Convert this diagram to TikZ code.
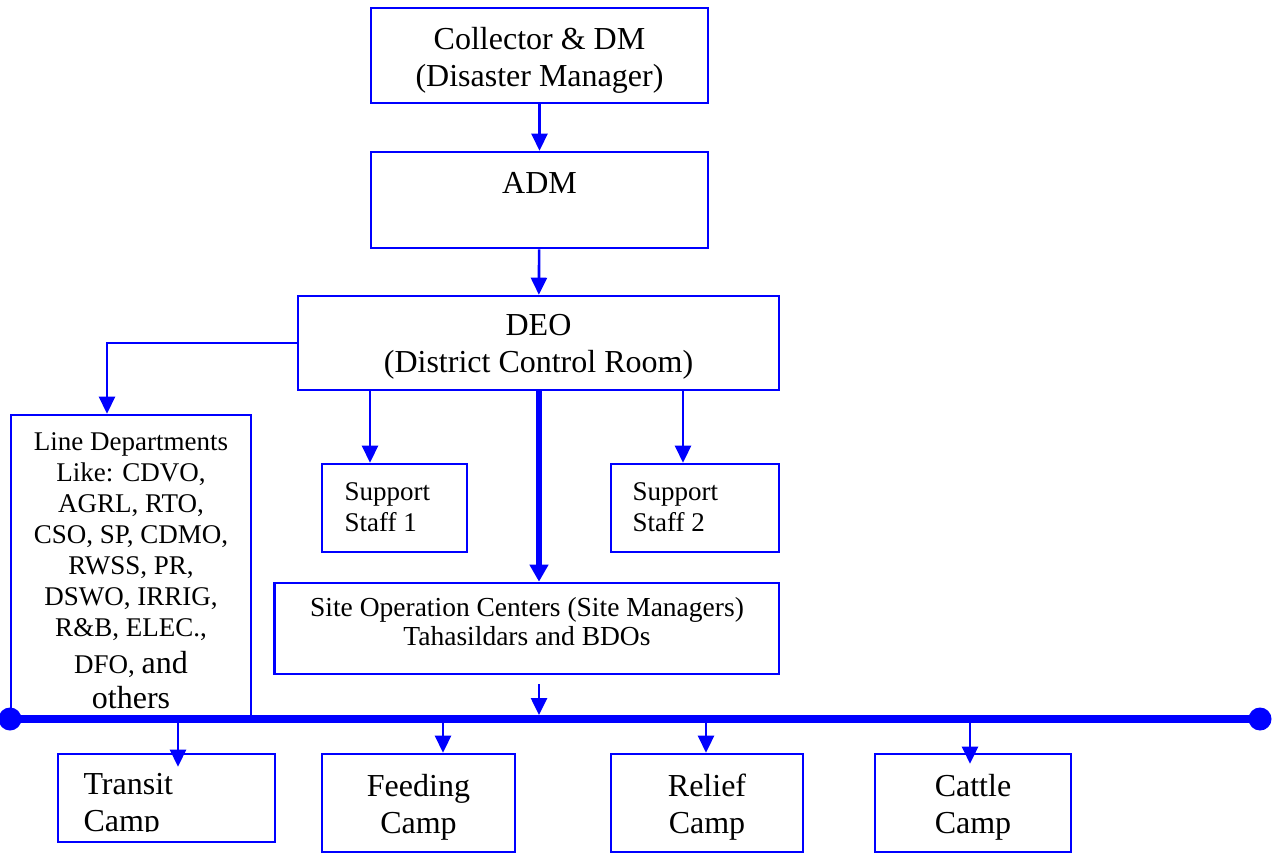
\documentclass[tikz,border=0pt]{standalone}
\usepackage{fontspec}
\setmainfont{Liberation Serif}
\usetikzlibrary{arrows.meta}
\definecolor{orgblue}{RGB}{0,0,255}

\tikzset{
  box/.style={draw=orgblue, line width=2.6pt, inner sep=0pt},
  bigtext/.style={align=center, font=\fontsize{32}{37}\selectfont},
  smalltext/.style={font=\fontsize{27}{31}\selectfont},
  link/.style={draw=orgblue, line width=2.6pt,
               -{Triangle[length=17pt,width=16pt]}},
  mainlink/.style={draw=orgblue, line width=5.5pt,
               -{Triangle[length=17pt,width=18pt]}},
  busline/.style={draw=orgblue, line width=8pt},
  busend/.style={circle, fill=orgblue, inner sep=0pt, minimum size=23pt},
}

\begin{document}
\begin{tikzpicture}[x=1pt, y=-1pt]
\useasboundingbox (0,0) rectangle (1280,853);

% command chain
\node[box, minimum width=337pt, minimum height=95pt] (coll) at (539.5,55.5) {};
\node[bigtext] (colltext) at ([yshift=-5pt]coll.center) {Collector \& DM\\(Disaster Manager)};
\node[box, minimum width=337pt, minimum height=96pt] (adm) at (539.5,200) {};
\node[bigtext] (admtext) at (539.5,183) {ADM};
\node[box, minimum width=481pt, minimum height=94pt] (deo) at (538.5,343) {};
\node[bigtext] (deotext) at ([yshift=-4pt]deo.center) {DEO\\(District Control Room)};

% line departments
\node[box, minimum width=240pt, minimum height=304pt] (ld) at (131,567) {};
\node[smalltext, align=center, anchor=north] (ldtext) at (131,429)
  {Line Departments\\Like: CDVO,\\AGRL, RTO,\\CSO, SP, CDMO,\\RWSS, PR,\\DSWO, IRRIG,\\R\&B, ELEC.,\\[6pt]DFO, {\fontsize{32}{37}\selectfont and}\\[4pt]{\fontsize{32}{37}\selectfont others}};

% support staff
\node[box, minimum width=145pt, minimum height=88pt] (ss1) at (394.5,508) {};
\node[smalltext, anchor=west, align=left] (ss1text) at (341,507) {Support\\Staff 1};
\node[box, minimum width=168pt, minimum height=88pt] (ss2) at (695,508) {};
\node[smalltext, anchor=west, align=left] (ss2text) at (629,507) {Support\\Staff 2};

% site operation centres
\node[box, minimum width=504.5pt, minimum height=91pt] (site) at (526.75,628.5) {};
\node[font=\fontsize{27.5}{29}\selectfont, align=center] (sitetext) at (527,622)
  {Site Operation Centers (Site Managers)\\Tahasildars and BDOs};

% distribution bus
\node[busend] (busL) at (10,719) {};
\node[busend] (busR) at (1260,719) {};
\draw[busline] (busL.center) -- (busR.center);

% camps
\node[box, minimum width=217pt, minimum height=88pt] (transit) at (166.5,798) {};
\begin{scope}
  \clip (58,755) rectangle (275,831);
  \node[bigtext, anchor=west, align=left] (transittext)
    at (80,806) {Transit\\Camp};
\end{scope}
\node[box, minimum width=193pt, minimum height=98pt] (feed) at (418.5,803) {};
\node[bigtext] (feedtext) at ([yshift=-4pt]feed.center) {Feeding\\Camp};
\node[box, minimum width=192pt, minimum height=98pt] (relief) at (707,803) {};
\node[bigtext] (relieftext) at ([yshift=-4pt]relief.center) {Relief\\Camp};
\node[box, minimum width=196pt, minimum height=98pt] (cattle) at (973,803) {};
\node[bigtext] (cattletext) at ([yshift=-4pt]cattle.center) {Cattle\\Camp};

% taps on the bus
\coordinate (tapT) at (178,719);
\coordinate (tapF) at (443,719);
\coordinate (tapR) at (706,719);
\coordinate (tapC) at (970,719);
\coordinate (tapS) at (539,719);

% connectors
\draw[link] (coll) -- (adm);
\draw[link] (adm) -- (deo);
\draw[link] (deo.west) -| ([xshift=-24pt]ld.north);
\draw[link] ([xshift=-24.5pt]ss1.north |- deo.south) -- ([xshift=-24.5pt]ss1.north);
\draw[link] ([xshift=-12pt]ss2.north |- deo.south) -- ([xshift=-12pt]ss2.north);
\draw[mainlink] ([xshift=0.5pt]deo.south) -- ([xshift=0.5pt]deo.south |- site.north);
\draw[link] ([yshift=-9pt]tapS |- site.south) -- ([yshift=4pt]tapS);

\draw[link] (tapT) -- ([yshift=-14pt]tapT |- transit.north);
\draw[link] (tapF) -- (tapF |- feed.north);
\draw[link] (tapR) -- (tapR |- relief.north);
\draw[link] (tapC) -- ([yshift=-11pt]tapC |- cattle.north);
\end{tikzpicture}
\end{document}
